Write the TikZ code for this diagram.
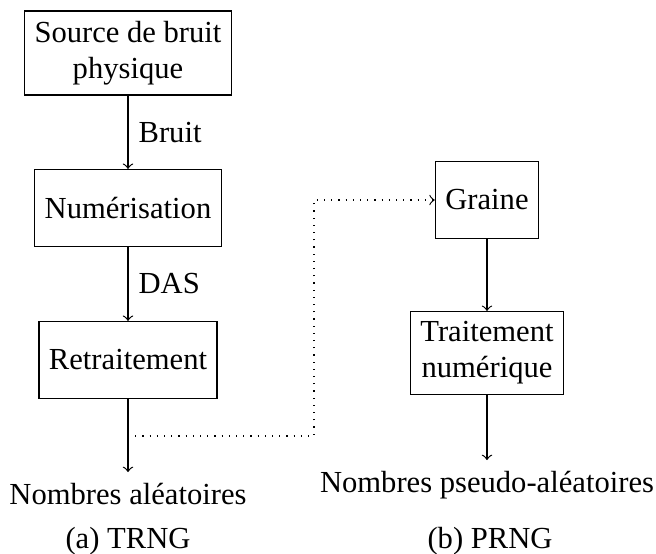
\documentclass[tikz,border=0pt]{standalone}
\usepackage{fontspec}
\setmainfont{Liberation Serif}
\usetikzlibrary{positioning}

\tikzset{
	bloc/.style={draw, minimum height=.9cm, inner sep=3.33pt, align=center},
	sortie/.style={anchor=base},
}

\begin{document}
\begin{tikzpicture}[x=.3333pt, y=-.3333pt, ->,
	every node/.append style={font=\fontsize{10.2}{12}\selectfont}]
	\useasboundingbox (0,0) rectangle (656,554);
	% TRNG
	\node[bloc] (source) at (128,53)  {Source de bruit\\physique};
	\node[bloc] (numer)  at (128,208) {Numérisation};
	\node[bloc] (retr)   at (128,360) {Retraitement};
	\node[sortie] (alea)  at (128,504) {Nombres aléatoires};
	\node[sortie] (capa)  at (128,548) {(a) TRNG};
	\draw (source) -- node[right]{Bruit} (numer);
	\draw (numer)  -- node[right]{DAS}   (retr);
	\draw (retr)   -- (alea);
	% PRNG
	\node[bloc] (graine) at (487,200) {Graine};
	\node[bloc] (trait)  at (487,353) {Traitement\\numérique};
	\node[sortie] (pseudo) at (487,492) {Nombres pseudo-aléatoires};
	\node[sortie] (capb)   at (490,548) {(b) PRNG};
	\draw (graine) -- (trait);
	\draw (trait)  -- (pseudo);
	%liaison
	\coordinate (depart) at (128,436);
	\coordinate (coude)  at (314,436);
	\draw[dotted] (depart) -- (coude) |- (graine.west);
\end{tikzpicture}
\end{document}
